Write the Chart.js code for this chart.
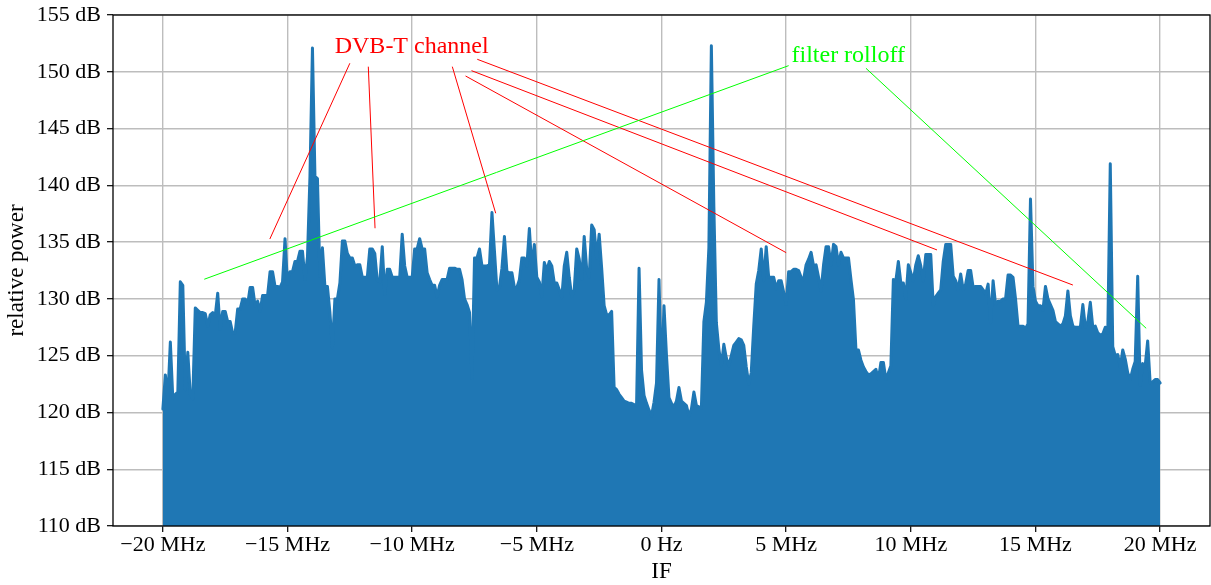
<!DOCTYPE html>
<html>
<head>
<meta charset="utf-8">
<title>IF spectrum</title>
<script src="https://cdn.jsdelivr.net/npm/chart.js@4/dist/chart.umd.min.js"></script>
<style>
  html, body { margin: 0; padding: 0; background: #ffffff; }
  #wrap { width: 1211px; height: 585px; position: relative; }
</style>
</head>
<body>
<div id="wrap"><canvas id="spectrum" width="1211" height="585"></canvas></div>
<script>
// Frequency grid of the power samples (MHz)
const FREQ_START_MHZ = -20;
const FREQ_STEP_MHZ = 0.1;

// Relative power (dB), one list per 5 MHz span
const POWER_M20_M15 = [
  120.3, 123.3, 121.3, 126.2, 121.2, 121.6, 121.8, 131.5, 131.2, 122.0,
  125.3, 121.6, 121.2, 129.2, 129.0, 128.8, 128.8, 128.7, 127.6, 128.6,
  128.8, 128.5, 130.5, 127.3, 128.9, 128.9, 128.0, 128.0, 127.0, 127.0,
  129.1, 129.1, 130.0, 130.0, 129.5, 131.0, 131.0, 129.4, 129.8, 128.9,
  130.3, 130.3, 130.3, 132.4, 132.4, 131.1, 131.1, 131.0, 131.5, 135.3
];
const POWER_M15_M10 = [
  131.3, 132.4, 132.4, 133.3, 133.3, 134.2, 134.2, 131.7, 133.7, 140.8,
  152.1, 140.8, 140.6, 132.0, 134.5, 131.1, 131.1, 128.8, 125.7, 130.0,
  130.0, 131.4, 135.1, 135.1, 134.0, 133.6, 133.6, 132.9, 133.0, 133.0,
  131.9, 131.9, 131.9, 134.4, 134.4, 134.0, 131.6, 131.5, 134.6, 130.4,
  132.6, 132.6, 131.9, 131.9, 131.9, 131.9, 135.7, 132.9, 131.9, 131.9
];
const POWER_M10_M5 = [
  131.9, 134.4, 134.4, 135.3, 134.4, 134.4, 132.3, 131.7, 131.2, 131.2,
  130.2, 131.2, 131.7, 131.7, 131.7, 132.7, 132.7, 132.7, 132.6, 132.6,
  131.7, 130.0, 129.5, 128.8, 123.0, 133.6, 133.6, 134.4, 132.9, 132.9,
  132.9, 133.0, 137.6, 134.2, 130.8, 131.0, 132.7, 135.5, 132.4, 132.3,
  132.3, 131.0, 131.0, 131.7, 133.6, 133.6, 132.9, 136.2, 132.7, 134.8
];
const POWER_M5_0 = [
  131.9, 131.5, 130.2, 133.2, 132.5, 133.3, 132.9, 131.4, 131.4, 130.8,
  130.1, 132.9, 134.1, 131.9, 130.2, 130.8, 134.4, 133.5, 131.7, 135.5,
  132.6, 131.9, 136.5, 136.1, 133.6, 135.7, 132.7, 129.4, 128.6, 128.6,
  128.9, 122.2, 122.0, 121.6, 121.3, 121.0, 120.9, 120.8, 120.8, 120.7,
  120.6, 132.7, 123.7, 121.5, 120.8, 120.2, 119.7, 120.9, 122.6, 131.7
];
const POWER_0_5 = [
  122.9, 129.4, 125.0, 121.3, 120.8, 120.5, 121.0, 122.2, 121.0, 120.8,
  120.6, 119.7, 120.3, 121.8, 120.6, 120.5, 120.4, 128.0, 129.7, 134.5,
  152.3, 138.1, 127.9, 125.6, 124.1, 126.0, 124.8, 124.1, 125.0, 125.9,
  126.2, 126.5, 126.4, 125.9, 124.0, 122.5, 123.5, 127.6, 131.3, 132.5,
  134.4, 131.6, 134.6, 131.9, 131.9, 131.9, 130.9, 131.6, 131.6, 130.6
];
const POWER_5_10 = [
  129.5, 132.4, 132.4, 132.6, 132.6, 132.5, 131.9, 131.7, 133.0, 133.5,
  134.1, 132.9, 133.0, 131.9, 130.7, 133.0, 134.6, 134.6, 133.0, 134.8,
  134.6, 133.0, 134.1, 133.6, 133.6, 133.6, 131.7, 129.9, 125.5, 125.5,
  124.6, 124.0, 123.6, 123.3, 123.4, 123.6, 123.8, 122.9, 124.4, 124.4,
  122.9, 123.5, 124.1, 131.7, 131.6, 133.3, 131.4, 131.4, 130.0, 133.0
];
const POWER_10_15 = [
  132.3, 131.6, 133.0, 133.8, 132.9, 131.6, 133.9, 133.9, 133.9, 129.4,
  130.2, 130.5, 130.8, 133.3, 134.8, 134.8, 134.8, 132.0, 131.6, 130.8,
  132.2, 130.8, 131.3, 132.5, 132.5, 131.0, 131.1, 131.1, 131.1, 130.8,
  130.4, 131.3, 127.9, 131.6, 129.5, 129.8, 129.8, 130.0, 130.0, 132.1,
  132.1, 131.9, 130.0, 127.6, 127.6, 127.6, 127.4, 127.8, 138.8, 131.1
];
const POWER_15_20 = [
  129.8, 129.4, 129.4, 129.0, 131.1, 130.0, 129.5, 129.0, 128.0, 127.8,
  127.6, 127.8, 128.5, 130.7, 128.5, 127.6, 127.5, 127.5, 127.5, 129.5,
  127.5, 128.0, 129.7, 127.5, 127.6, 127.0, 126.8, 126.9, 127.5, 127.0,
  141.9, 125.8, 125.0, 125.1, 124.0, 125.5, 124.7, 123.5, 122.9, 123.8,
  124.5, 132.0, 122.4, 124.3, 124.1, 126.3, 122.6, 122.7, 122.9, 122.9,
  122.6
];

const X_TICKS = [-20, -15, -10, -5, 0, 5, 10, 15, 20];
const Y_TICKS = [110, 115, 120, 125, 130, 135, 140, 145, 150, 155];

// Callout texts and their leader lines, in data units (MHz, dB)
const CALLOUT_DVBT = { text: 'DVB-T channel', color: '#ff0000', at: [-10.02, 152.18] };
const DVBT_LINES = [
  [[-12.50, 150.75], [-15.71, 135.27]],
  [[-11.76, 150.45], [-11.49, 136.22]],
  [[-8.39, 150.45], [-6.65, 137.54]],
  [[-7.86, 149.63], [5.00, 134.07]],
  [[-7.62, 150.10], [11.05, 134.31]],
  [[-7.39, 151.10], [16.50, 131.22]]
];
const CALLOUT_FILTER = { text: 'filter rolloff', color: '#00ff00', at: [7.49, 151.39] };
const FILTER_LINES = [
  [[5.10, 150.54], [-18.34, 131.73]],
  [[8.20, 150.31], [19.44, 127.41]]
];

const POWER_DB = [].concat(POWER_M20_M15, POWER_M15_M10, POWER_M10_M5, POWER_M5_0,
                           POWER_0_5, POWER_5_10, POWER_10_15, POWER_15_20);
const points = POWER_DB.map((db, i) => ({
  x: +(FREQ_START_MHZ + i * FREQ_STEP_MHZ).toFixed(2),
  y: db
}));

const SERIF = "'Liberation Serif', 'DejaVu Serif', serif";
const BLUE = '#1f77b4';
const GRID = '#bdbdbd';

function freqLabel(v) {
  if (v === 0) return '0 Hz';
  return (v < 0 ? '\u2212' : '') + Math.abs(v) + ' MHz';
}

const decorations = {
  id: 'decorations',
  afterDatasetsDraw(chart) {
    const { ctx, chartArea: a, scales: { x, y } } = chart;
    ctx.save();
    // frame around the plot area
    ctx.strokeStyle = '#000';
    ctx.lineWidth = 1.3;
    ctx.strokeRect(a.left, a.top, a.right - a.left, a.bottom - a.top);

    // leader lines
    ctx.lineWidth = 1;
    const drawLines = (lines, color) => {
      ctx.strokeStyle = color;
      lines.forEach(([p, q]) => {
        ctx.beginPath();
        ctx.moveTo(x.getPixelForValue(p[0]), y.getPixelForValue(p[1]));
        ctx.lineTo(x.getPixelForValue(q[0]), y.getPixelForValue(q[1]));
        ctx.stroke();
      });
    };
    drawLines(DVBT_LINES, CALLOUT_DVBT.color);
    drawLines(FILTER_LINES, CALLOUT_FILTER.color);

    // callout texts
    ctx.font = '24px ' + SERIF;
    ctx.textAlign = 'center';
    ctx.textBaseline = 'middle';
    [CALLOUT_DVBT, CALLOUT_FILTER].forEach(c => {
      ctx.fillStyle = c.color;
      ctx.fillText(c.text, x.getPixelForValue(c.at[0]), y.getPixelForValue(c.at[1]));
    });

    // axis titles
    ctx.fillStyle = '#000';
    ctx.font = '23px ' + SERIF;
    ctx.fillText('IF', (a.left + a.right) / 2, 572);
    ctx.translate(17, (a.top + a.bottom) / 2);
    ctx.rotate(-Math.PI / 2);
    ctx.fillText('relative power', 0, 0);
    ctx.restore();
  }
};

new Chart(document.getElementById('spectrum'), {
  type: 'line',
  data: {
    datasets: [{
      data: points,
      borderColor: BLUE,
      backgroundColor: BLUE,
      borderWidth: 3,
      borderJoinStyle: 'round',
      borderCapStyle: 'round',
      fill: 'start',
      pointRadius: 0,
      tension: 0
    }]
  },
  options: {
    responsive: false,
    animation: false,
    devicePixelRatio: 1,
    parsing: false,
    layout: { padding: { top: 15, right: 1, left: 0, bottom: 0 } },
    plugins: { legend: { display: false }, tooltip: { enabled: false } },
    scales: {
      x: {
        type: 'linear',
        min: -22,
        max: 22,
        afterBuildTicks: s => { s.ticks = X_TICKS.map(v => ({ value: v })); },
        afterFit: s => { s.height = 59; s.paddingLeft = 0; s.paddingRight = 0; },
        ticks: {
          callback: v => freqLabel(v),
          font: { family: SERIF, size: 22 },
          color: '#000',
          padding: 0,
          maxRotation: 0,
          autoSkip: false
        },
        grid: { color: GRID, lineWidth: 1.4, tickColor: '#000', tickLength: 6, tickWidth: 1.2 },
        border: { display: false }
      },
      y: {
        min: 110,
        max: 155,
        afterBuildTicks: s => { s.ticks = Y_TICKS.map(v => ({ value: v })); },
        afterFit: s => { s.width = 113; s.paddingTop = 0; s.paddingBottom = 0; },
        ticks: {
          callback: v => v + ' dB',
          font: { family: SERIF, size: 22 },
          color: '#000',
          padding: 6,
          autoSkip: false
        },
        grid: { color: GRID, lineWidth: 1.4, tickColor: '#000', tickLength: 6, tickWidth: 1.2 },
        border: { display: false }
      }
    }
  },
  plugins: [decorations]
});
</script>
</body>
</html>
